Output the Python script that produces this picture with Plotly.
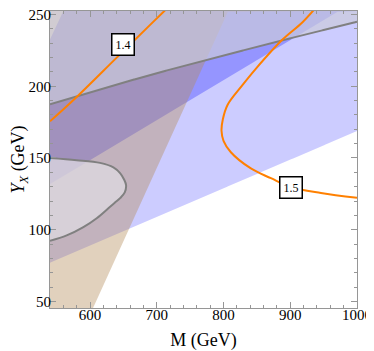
import numpy as np
import plotly.graph_objects as go

# axis ranges and ticks
x_range = [540, 1000]
y_range = [45.4, 252.5]
x_ticks = [600, 700, 800, 900, 1000]
y_ticks = [50, 100, 150, 200, 250]

# straight region edges, two points each (M, Y_X)
tan_edge_m = [605, 807.5]
tan_edge_y = [45.4, 253]
blue_cap_m = [540, 559.9]
blue_cap_y = [232.6, 253]
blue_low_m = [540, 1000]
blue_low_y = [77, 168.8]
blue_mid_m = [540, 976]
blue_mid_y = [131.8, 253.3]

# gray boundary (upper)
gray_m = [540, 690, 870, 1000]
gray_y = [187.5, 208, 230, 245]

# gray closed contour, lower left
blob_m = [540, 580, 615, 635, 645, 651, 654, 652, 645, 637, 630, 610, 590, 565, 540]
blob_y = [150, 148.5, 146.6, 143.5, 139.5, 135, 131, 126, 122, 118.8, 116, 108, 101.8, 96, 92.2]

# orange contours
c14_m = [540, 580, 640, 690, 718]
c14_y = [175.6, 192.6, 220, 242.8, 255.5]
c15_m = [938.5, 918, 888, 848, 828, 806, 799, 797, 800, 811, 841, 871, 901, 946, 1000]
c15_y = [255, 244.5, 232.4, 212, 200.6, 187, 177, 169, 162, 154, 142.7, 135.9, 129.7, 125.6, 122.2]

labels = ["1.4", "1.5"]
label_m = [650, 901.5]
label_y = [229.2, 129.7]


def line(ms, ys):
    k, b = np.polyfit(ms, ys, 1)
    return lambda m: k * m + b


M = np.linspace(x_range[0], x_range[1], 921)
y0, y1 = y_range


def band(lo, hi, color):
    lo = np.clip(lo, y0, y1)
    hi = np.clip(hi, y0, y1)
    return go.Scatter(x=np.concatenate([M, M[::-1]]), y=np.concatenate([hi, lo[::-1]]),
                      fill="toself", fillcolor=color, mode="lines", line=dict(width=0),
                      hoverinfo="skip")


tan = line(tan_edge_m, tan_edge_y)
cap = line(blue_cap_m, blue_cap_y)
low = line(blue_low_m, blue_low_y)
mid = line(blue_mid_m, blue_mid_y)
gray = np.interp(M, gray_m, gray_y)

fig = go.Figure()
fig.add_trace(band(low(M), cap(M), "rgba(0,0,255,0.2)"))
fig.add_trace(band(mid(M), cap(M), "rgba(0,0,255,0.27)"))
fig.add_trace(band(tan(M), np.full_like(M, y1), "rgba(180,140,90,0.4)"))
fig.add_trace(band(gray, np.full_like(M, y1), "rgba(202,202,220,0.7)"))
fig.add_trace(go.Scatter(x=blob_m, y=blob_y, fill="toself", fillcolor="rgba(222,218,225,0.75)",
                         mode="lines", line=dict(width=0)))

fig.add_trace(go.Scatter(x=M, y=gray, mode="lines", line=dict(color="rgb(128,128,128)", width=2)))
fig.add_trace(go.Scatter(x=blob_m, y=blob_y, mode="lines", line=dict(color="rgb(128,128,128)", width=2, shape="spline")))
fig.add_trace(go.Scatter(x=c14_m, y=c14_y, mode="lines", line=dict(color="rgb(255,128,0)", width=2, shape="spline")))
fig.add_trace(go.Scatter(x=c15_m, y=c15_y, mode="lines", line=dict(color="rgb(255,128,0)", width=2, shape="spline")))

for t, m, y in zip(labels, label_m, label_y):
    fig.add_annotation(x=m, y=y, text=t, showarrow=False, bgcolor="white",
                       bordercolor="black", borderwidth=1.5, borderpad=3,
                       font=dict(family="Liberation Serif", size=12, color="black"))

axis_style = dict(showgrid=False, zeroline=False, showline=True, linecolor="rgb(150,150,150)",
                  linewidth=1, ticks="inside", ticklen=6, tickcolor="rgb(150,150,150)",
                  mirror="allticks", automargin=False, ticklabeloverflow="allow",
                  tickfont=dict(family="Liberation Serif", size=15, color="black"))

fig.update_xaxes(range=x_range, tickvals=x_ticks, ticklabelstandoff=-7,
                 title=dict(text="M (GeV)", standoff=14),
                 minor=dict(ticks="inside", ticklen=3, dtick=20, tickcolor="rgb(150,150,150)"),
                 **axis_style)
fig.update_yaxes(range=y_range, tickvals=y_ticks, ticklabelstandoff=-5,
                 title=dict(text="<i>Y</i><sub><i>X</i></sub> (GeV)", standoff=2),
                 minor=dict(ticks="inside", ticklen=3, dtick=10, tickcolor="rgb(150,150,150)"),
                 **axis_style)

# the page adds an 8px body margin, so the figure is 8px smaller than the window
fig.update_layout(width=366, height=343, margin=dict(l=42, r=17, t=3, b=43),
                  plot_bgcolor="white", paper_bgcolor="white", showlegend=False,
                  font=dict(family="Liberation Serif", size=15, color="black"))

fig.write_html("out.html")
